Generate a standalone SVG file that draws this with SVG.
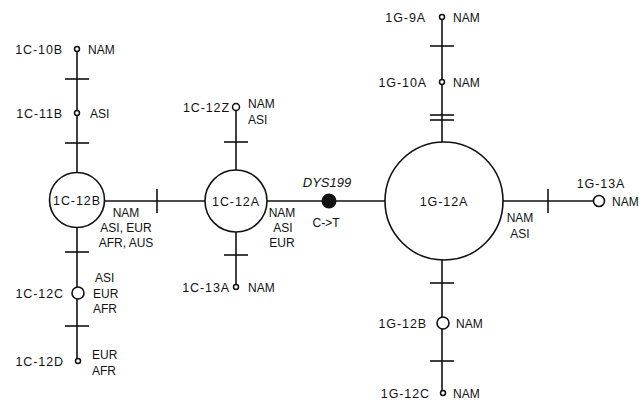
<svg xmlns="http://www.w3.org/2000/svg" width="644" height="402" viewBox="0 0 644 402">
<style>
.ln{stroke:#111;stroke-width:1.6;fill:none}
.nd{stroke:#111;stroke-width:1.6;fill:#fff}
.sm{stroke:#111;stroke-width:1.5;fill:#fff}
.nm{font-family:"Liberation Sans",Arial,sans-serif;font-size:12.5px;letter-spacing:0.9px;fill:#111}
.rg{font-family:"Liberation Sans",Arial,sans-serif;font-size:12px;fill:#111}
.it{font-family:"Liberation Sans",Arial,sans-serif;font-size:13px;font-style:italic;fill:#111}
</style>
<rect width="644" height="402" fill="#fff"/>
<g id="connectors">
<line class="ln" x1="77" y1="49" x2="77" y2="173"/>
<line class="ln" x1="77" y1="227" x2="77" y2="360"/>
<line class="ln" x1="105" y1="201" x2="205" y2="201"/>
<line class="ln" x1="267" y1="201" x2="385" y2="201"/>
<line class="ln" x1="503" y1="201" x2="593" y2="201"/>
<line class="ln" x1="236" y1="108" x2="236" y2="170"/>
<line class="ln" x1="236" y1="232" x2="236" y2="287"/>
<line class="ln" x1="442" y1="17" x2="442" y2="142"/>
<line class="ln" x1="442" y1="260" x2="442" y2="393"/>
<g id="ticks">
<line class="ln" x1="65" y1="79" x2="89" y2="79"/>
<line class="ln" x1="65" y1="143" x2="89" y2="143"/>
<line class="ln" x1="65" y1="252" x2="89" y2="252"/>
<line class="ln" x1="65" y1="326" x2="89" y2="326"/>
<line class="ln" x1="157" y1="189" x2="157" y2="213"/>
<line class="ln" x1="224" y1="142" x2="248" y2="142"/>
<line class="ln" x1="224" y1="255" x2="248" y2="255"/>
<line class="ln" x1="430" y1="46" x2="454" y2="46"/>
<line class="ln" x1="430" y1="115" x2="454" y2="115"/>
<line class="ln" x1="430" y1="120" x2="454" y2="120"/>
<line class="ln" x1="430" y1="283" x2="454" y2="283"/>
<line class="ln" x1="430" y1="361" x2="454" y2="361"/>
<line class="ln" x1="548" y1="189" x2="548" y2="213"/>
</g>
</g>
<g id="n-1C-10B">
<circle class="sm" cx="77" cy="49" r="2.5"/>
<text class="nm" x="63" y="53.5" text-anchor="end">1C-10B</text>
<text class="rg" x="88" y="53.5">NAM</text>
</g>
<g id="n-1C-11B">
<circle class="sm" cx="77" cy="113" r="2.5"/>
<text class="nm" x="63" y="117.5" text-anchor="end">1C-11B</text>
<text class="rg" x="90" y="117.5">ASI</text>
</g>
<g id="n-1C-12B">
<circle class="nd" cx="77" cy="200" r="27.5"/>
<text class="nm" x="77" y="204.5" text-anchor="middle">1C-12B</text>
<text class="rg" x="126" y="216.5" text-anchor="middle">NAM</text>
<text class="rg" x="126" y="231.5" text-anchor="middle">ASI, EUR</text>
<text class="rg" x="126" y="247" text-anchor="middle">AFR, AUS</text>
</g>
<g id="n-1C-12C">
<circle class="nd" cx="78" cy="293" r="6"/>
<text class="nm" x="64" y="297.5" text-anchor="end">1C-12C</text>
<text class="rg" x="95" y="281.5">ASI</text>
<text class="rg" x="93" y="297.5">EUR</text>
<text class="rg" x="93" y="312.5">AFR</text>
</g>
<g id="n-1C-12D">
<circle class="sm" cx="78" cy="361" r="2.5"/>
<text class="nm" x="64" y="366" text-anchor="end">1C-12D</text>
<text class="rg" x="92" y="359">EUR</text>
<text class="rg" x="92" y="375">AFR</text>
</g>
<g id="n-1C-12A">
<circle class="nd" cx="236" cy="201" r="31"/>
<text class="nm" x="236" y="205.5" text-anchor="middle">1C-12A</text>
<text class="rg" x="282" y="216.5" text-anchor="middle">NAM</text>
<text class="rg" x="283" y="231.5" text-anchor="middle">ASI</text>
<text class="rg" x="282" y="246.5" text-anchor="middle">EUR</text>
</g>
<g id="n-1C-12Z">
<circle class="sm" cx="236" cy="107" r="3.5"/>
<text class="nm" x="230" y="112" text-anchor="end">1C-12Z</text>
<text class="rg" x="248" y="108">NAM</text>
<text class="rg" x="248" y="124">ASI</text>
</g>
<g id="n-1C-13A">
<circle class="sm" cx="236" cy="287" r="2.5"/>
<text class="nm" x="230" y="291.5" text-anchor="end">1C-13A</text>
<text class="rg" x="248" y="291.5">NAM</text>
</g>
<g id="n-DYS199">
<circle cx="329" cy="201" r="7.5" fill="#111"/>
<text class="it" x="327" y="186.5" text-anchor="middle">DYS199</text>
<text class="rg" x="326" y="226.5" text-anchor="middle">C-&gt;T</text>
</g>
<g id="n-1G-12A">
<circle class="nd" cx="444" cy="201" r="59"/>
<text class="nm" x="444" y="205.5" text-anchor="middle">1G-12A</text>
<text class="rg" x="520" y="221.5" text-anchor="middle">NAM</text>
<text class="rg" x="520" y="237.5" text-anchor="middle">ASI</text>
</g>
<g id="n-1G-9A">
<circle class="sm" cx="442" cy="17" r="2.5"/>
<text class="nm" x="426" y="21.5" text-anchor="end">1G-9A</text>
<text class="rg" x="453" y="21.5">NAM</text>
</g>
<g id="n-1G-10A">
<circle class="sm" cx="442" cy="82" r="2.5"/>
<text class="nm" x="427" y="86.5" text-anchor="end">1G-10A</text>
<text class="rg" x="453" y="86.5">NAM</text>
</g>
<g id="n-1G-13A">
<circle class="nd" cx="599" cy="201" r="5.5"/>
<text class="nm" x="601" y="187.5" text-anchor="middle">1G-13A</text>
<text class="rg" x="612" y="205.5">NAM</text>
</g>
<g id="n-1G-12B">
<circle class="nd" cx="443" cy="323" r="6"/>
<text class="nm" x="427" y="327.5" text-anchor="end">1G-12B</text>
<text class="rg" x="456" y="327.5">NAM</text>
</g>
<g id="n-1G-12C">
<circle class="sm" cx="443" cy="393" r="2.5"/>
<text class="nm" x="430" y="397.5" text-anchor="end">1G-12C</text>
<text class="rg" x="453" y="397.5">NAM</text>
</g>
</svg>
